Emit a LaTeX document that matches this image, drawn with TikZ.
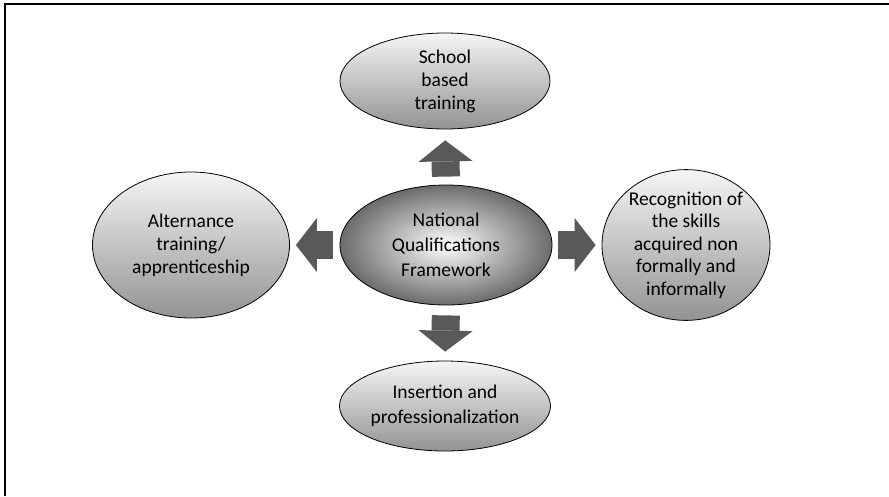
\documentclass[tikz,border=0pt]{standalone}
\usepackage{fontspec}
\setmainfont{Carlito}
\usetikzlibrary{shapes.geometric,arrows.meta}

\definecolor{arrowgray}{HTML}{595959}

\tikzset{
  bubble/.style={ellipse, draw=black, line width=0.8pt, inner sep=0pt,
    align=center, font=\fontsize{19.5}{23}\selectfont,
    top color=gray!8, bottom color=gray!85},
  hub/.style={bubble, shading=radial, inner color=white, outer color=black!58,
    font=\fontsize{19.5}{25}\selectfont},
  blockarrow/.style={draw=arrowgray, line width=28pt,
    -{Triangle[length=21pt, width=54pt, line width=0pt]}}
}

\begin{document}
\begin{tikzpicture}[x=1pt, y=-1pt]

    \useasboundingbox (0,0) rectangle (889,496);

    % frame
    \draw[line width=1.6pt] (5,496) -- (5,4) -- (889,4);

    % the five fields
    \node[hub, minimum width=212pt, minimum height=120pt] (nqf) at (446,245)
        {National\\Qualifications\\Framework};
    \node[bubble, minimum width=210pt, minimum height=96pt] (school) at (445,81)
        {School\\based\\training};
    \node[bubble, minimum width=197pt, minimum height=146pt] (altern) at (191,245)
        {Alternance\\training/\\apprenticeship};
    \node[bubble, minimum width=168pt, minimum height=150pt,
          font=\fontsize{19.5}{22.5}\selectfont] (recog) at (686,245)
        {Recognition of\\the skills\\acquired non\\formally and\\informally};
    \node[bubble, minimum width=211pt, minimum height=90pt,
          font=\fontsize{19.5}{25}\selectfont] (insert) at (445,406)
        {Insertion and\\professionalization};

    % block arrows
    \draw[blockarrow, shorten <=8pt, shorten >=11pt] (nqf.north) -- (school.south);
    \draw[blockarrow, shorten <=7pt, shorten >=6pt] (nqf.west) -- (altern.east);
    \draw[blockarrow, shorten <=6pt, shorten >=6pt] (nqf.east) -- (recog.west);
    \draw[blockarrow, shorten <=10pt, shorten >=9pt] (nqf.south) -- (insert.north);

\end{tikzpicture}
\end{document}
